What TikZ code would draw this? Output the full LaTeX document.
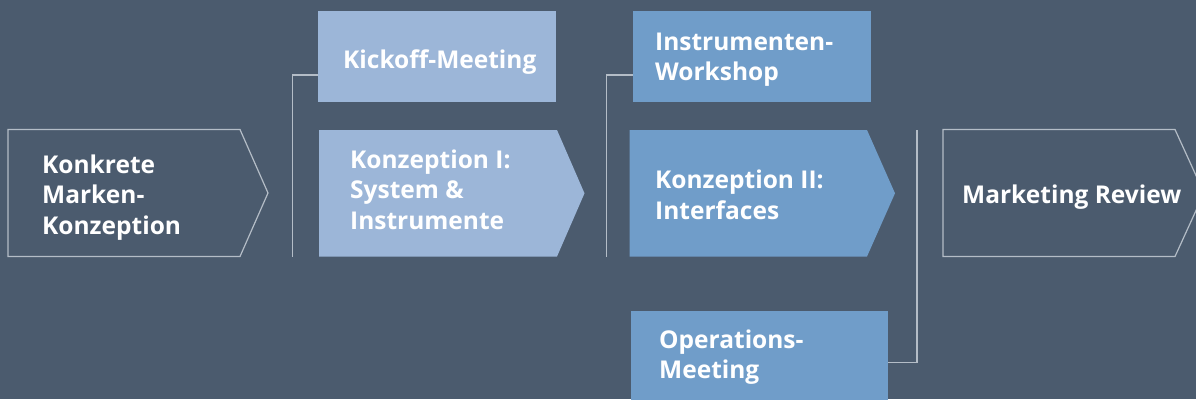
\documentclass[tikz,border=0pt]{standalone}
\usepackage{fontspec}
\setmainfont{Open Sans}
\definecolor{bgslate}{HTML}{4B5B6E}
\definecolor{paleblue}{HTML}{9CB6D8}
\definecolor{midblue}{HTML}{709DC9}
\definecolor{rulegray}{HTML}{B4BDC7}
% lines of a label, baseline on the first line
\newcommand{\stack}[1]{\begin{tabular}[t]{@{}l@{}}#1\end{tabular}}
\begin{document}
\begin{tikzpicture}[x=1pt,y=-1pt,
  lbl/.style={inner sep=0pt, anchor=base west, text=white,
    font=\fontsize{24.5}{30.5}\selectfont\bfseries},
  outlinebox/.style={draw=rulegray, line width=1.2pt, line join=miter},
  conn/.style={draw=rulegray, line width=1.2pt},
  block/.style={rectangle, draw=none, inner sep=0pt, anchor=north west}]
  \fill[bgslate] (0,0) rectangle (1196,399);
  \useasboundingbox (0,0) rectangle (1196,399);
  \clip (0,0) rectangle (1196,399);

  % phase arrows
  \draw[outlinebox] (8,129.5) -- (240,129.5) -- (268,193) -- (240,256.5) -- (8,256.5) -- cycle;
  \fill[paleblue] (319,130) -- (557,130) -- (584.5,193.3) -- (557,256.5) -- (319,256.5) -- cycle;
  \fill[midblue] (629.5,130) -- (867,130) -- (895,193.3) -- (867,256.5) -- (629.5,256.5) -- cycle;
  \draw[outlinebox] (943,129.5) -- (1175,129.5) -- (1204,193) -- (1175,256.5) -- (943,256.5) -- cycle;

  % meeting boxes
  \node[block, fill=paleblue, minimum width=238pt, minimum height=90.5pt] (kick) at (318,11) {};
  \node[block, fill=midblue, minimum width=238pt, minimum height=90.5pt] (work) at (633,11) {};
  \node[block, fill=midblue, minimum width=257pt, minimum height=100pt] (ops) at (631,311) {};

  % labels
  \node[lbl] (konkrete) at (42,173) {\stack{Konkrete\\Marken-\\Konzeption}};
  \node[lbl] (kicktxt) at (343,68) {Kickoff-Meeting};
  \node[lbl] (konz1) at (350,168) {\stack{Konzeption I:\\System \&\\Instrumente}};
  \node[lbl] (worktxt) at (655,50) {\stack{Instrumenten-\\Workshop}};
  \node[lbl] (konz2) at (655,188.5) {\stack{Konzeption II:\\Interfaces}};
  \node[lbl] (opstxt) at (659,348) {\stack{Operations-\\Meeting}};
  \node[lbl] (review) at (962,203) {Marketing Review};

  % brackets
  \coordinate (b1top) at (292.5,75);
  \coordinate (b1end) at (292.5,256.5);
  \coordinate (b2top) at (606.5,75);
  \coordinate (b2end) at (606.5,256.5);
  \coordinate (b3top) at (917,130);
  \coordinate (b3bot) at (917,362.5);
  \draw[conn] (kick.west |- b1top) -- (b1top) -- (b1end);
  \draw[conn] (work.west |- b2top) -- (b2top) -- (b2end);
  \draw[conn] (b3top) -- (b3bot) -- (ops.east |- b3bot);
\end{tikzpicture}
\end{document}
